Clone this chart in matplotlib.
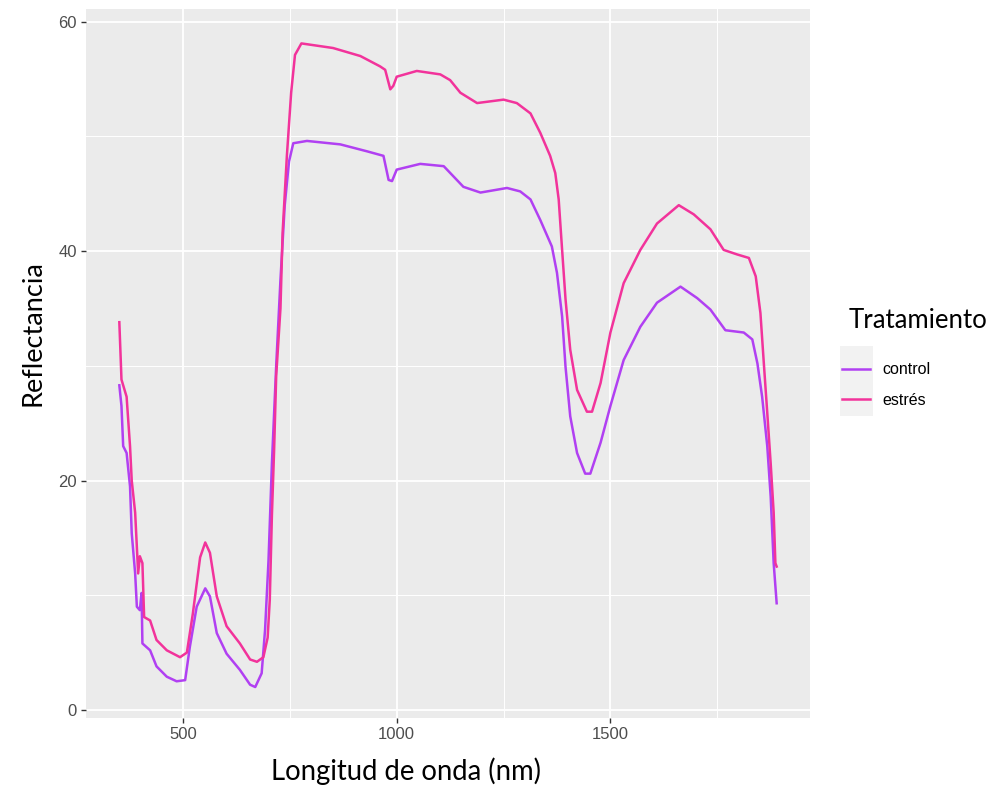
import matplotlib
matplotlib.use("Agg")
import matplotlib.pyplot as plt
from matplotlib.patches import Rectangle

# --- data ----------------------------------------------------------
wl_estres = [351, 356, 368, 376, 380, 388, 392, 395, 399, 405, 409, 423, 438, 462,
             493, 509, 523, 540, 552, 563, 579, 602, 633, 657, 673, 688, 698, 703,
             708, 713, 718, 728, 733, 743, 753, 762, 777, 851, 915, 961, 973, 985,
             992, 1000, 1047, 1102, 1125, 1149, 1188, 1250, 1281, 1313, 1336, 1359,
             1371, 1379, 1387, 1395, 1406, 1422, 1445, 1457, 1477, 1500, 1531, 1570,
             1609, 1660, 1695, 1734, 1765, 1797, 1824, 1840, 1851, 1859, 1867, 1875,
             1882, 1886, 1889]
refl_estres = [33.8, 28.8, 27.3, 23.0, 20.0, 17.2, 14.2, 11.9, 13.4, 12.8, 8.1, 7.8,
               6.1, 5.2, 4.6, 5.0, 8.4, 13.3, 14.6, 13.7, 9.9, 7.3, 5.8, 4.4, 4.2,
               4.6, 6.3, 9.6, 17.0, 22.5, 29.1, 35.0, 41.6, 48.3, 53.8, 57.1, 58.1,
               57.7, 57.0, 56.1, 55.8, 54.1, 54.4, 55.2, 55.7, 55.4, 54.9, 53.8, 52.9,
               53.2, 52.9, 52.0, 50.3, 48.3, 46.8, 44.5, 40.1, 35.8, 31.4, 27.9, 26.0,
               26.0, 28.5, 32.9, 37.2, 40.1, 42.4, 44.0, 43.2, 41.9, 40.1, 39.7, 39.4,
               37.8, 34.6, 30.2, 25.9, 21.5, 17.2, 12.8, 12.5]

wl_control = [351, 356, 360, 368, 376, 380, 388, 392, 399, 403, 405, 423, 438, 462,
              485, 505, 516, 532, 552, 563, 579, 602, 633, 657, 669, 684, 692, 700,
              708, 718, 728, 738, 748, 758, 790, 868, 930, 969, 981, 989, 1000, 1055,
              1110, 1156, 1196, 1258, 1289, 1313, 1336, 1363, 1375, 1387, 1395, 1406,
              1422, 1441, 1453, 1477, 1500, 1531, 1570, 1609, 1664, 1703, 1734, 1769,
              1812, 1832, 1844, 1855, 1867, 1875, 1882, 1889]
refl_control = [28.3, 26.5, 23.0, 22.4, 19.5, 15.4, 11.9, 9.0, 8.7, 10.2, 5.8, 5.2,
                3.8, 2.9, 2.5, 2.6, 5.5, 9.0, 10.6, 9.9, 6.7, 4.9, 3.5, 2.2, 2.0,
                3.2, 7.0, 13.0, 21.5, 30.0, 37.5, 44.0, 47.8, 49.4, 49.6, 49.3, 48.7,
                48.3, 46.2, 46.1, 47.1, 47.6, 47.4, 45.6, 45.1, 45.5, 45.2, 44.5,
                42.7, 40.4, 38.1, 34.3, 29.9, 25.6, 22.4, 20.6, 20.6, 23.3, 26.5,
                30.5, 33.4, 35.5, 36.9, 35.9, 34.9, 33.1, 32.9, 32.3, 30.2, 27.3,
                23.0, 18.6, 12.8, 9.3]

labels = ["control", "estrés"]
colors = ["#B140F2", "#F2339B"]

# --- figure ---------------------------------------------------------
fig = plt.figure(figsize=(9.97, 7.87), dpi=100)
ax = fig.add_axes([86/997, 1-718/787, (810-86)/997, (718-9)/787])
ax.set_facecolor("#EBEBEB")

l1, = ax.plot(wl_control, refl_control, color=colors[0], lw=1.8, label=labels[0])
l2, = ax.plot(wl_estres, refl_estres, color=colors[1], lw=1.8, label=labels[1])

xmin, xmax = 350, 1890
ax.set_xlim(xmin - 0.05*(xmax-xmin), xmax + 0.05*(xmax-xmin))
ax.set_ylim(-0.7, 61.1)

ax.set_xticks([500, 1000, 1500])
ax.set_xticks([750, 1250, 1750], minor=True)
ax.set_yticks([0, 20, 40, 60])
ax.set_yticks([10, 30, 50], minor=True)
ax.grid(which="major", color="white", lw=1.3)
ax.grid(which="minor", color="white", lw=0.7)
ax.set_axisbelow(True)
for s in ax.spines.values():
    s.set_visible(False)
ax.tick_params(which="major", length=3.5, width=1.0, color="#333333",
               labelsize=12, labelcolor="#4D4D4D", pad=3)
ax.tick_params(which="minor", length=0)
for t in ax.get_xticklabels() + ax.get_yticklabels():
    t.set_family(["Liberation Sans", "DejaVu Sans"])

# axis titles (pasted in a different font in the original)
fig.text(406/997, 1-771/787, "Longitud de onda (nm)", ha="center", va="center",
         fontsize=19.8, family=["Lato", "DejaVu Sans"], color="black")
fig.text(33/997, 1-333/787, "Reflectancia", ha="center", va="center",
         rotation=90, fontsize=19.5, family=["Lato", "DejaVu Sans"], color="black")

# legend
fig.patches.append(Rectangle((840/997, 1-416/787), 33/997, 70/787,
                             transform=fig.transFigure, facecolor="#F2F2F2",
                             edgecolor="none", zorder=0))
fig.text(849/997, 1-321/787, "Tratamiento", ha="left", va="center",
         fontsize=18.5, family=["Lato", "DejaVu Sans"], color="black")
leg = fig.legend(handles=[l1, l2], labels=labels, loc="upper left",
                 bbox_to_anchor=(828/997, 1-348/787), frameon=False,
                 handlelength=1.7, handletextpad=0.8, labelspacing=0.95,
                 prop={"family": ["Liberation Sans", "DejaVu Sans"], "size": 11.5})

fig.savefig("out.png", dpi=100)
